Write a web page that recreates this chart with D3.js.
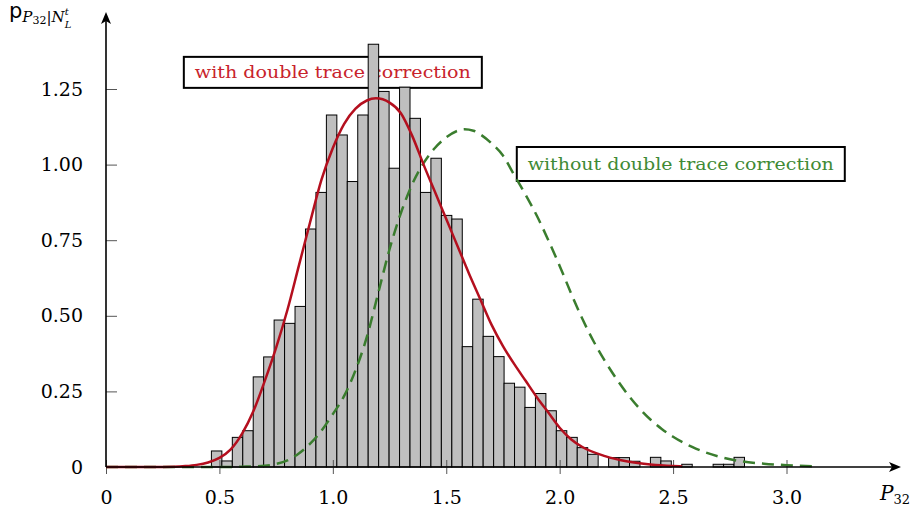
<!DOCTYPE html>
<html>
<head>
<meta charset="utf-8">
<script src="https://cdn.jsdelivr.net/npm/d3@7"></script>
<style>
  body { margin: 0; background: #fff; }
  svg { display: block; }
</style>
</head>
<body>
<div id="chart"></div>
<script>
  const width = 923, height = 518;

  // histogram: bins start at binStart, each binWidth wide
  const binStart = 0.4647, binWidth = 0.04608;
  const binHeights = [0.053, 0.020, 0.098, 0.120, 0.298, 0.364, 0.486, 0.475, 0.531, 0.787,
                      0.908, 1.164, 1.098, 0.944, 1.164, 1.398, 1.242, 0.988, 1.256, 1.153,
                      0.908, 1.021, 0.832, 0.820, 0.398, 0.555, 0.432, 0.365, 0.277, 0.264,
                      0.197, 0.243, 0.186, 0.120, 0.098, 0.064, 0.042, 0, 0.031, 0.031,
                      0.019, 0, 0.032, 0.020, 0, 0.009, 0, 0, 0.009, 0.009, 0.032];

  // fitted density with double trace correction
  const withX = [0, 0.2, 0.3, 0.35, 0.4, 0.45, 0.5, 0.55, 0.6, 0.65, 0.7, 0.75, 0.8, 0.85, 0.9, 0.95,
                 1.0, 1.05, 1.1, 1.15, 1.19, 1.25, 1.3, 1.35, 1.4, 1.45, 1.5, 1.55, 1.6, 1.65, 1.7,
                 1.75, 1.8, 1.85, 1.9, 1.95, 2.0, 2.05, 2.1, 2.2, 2.3, 2.4, 2.5, 2.54];
  const withY = [0, 0, 0.001, 0.003, 0.007, 0.015, 0.03, 0.058, 0.11, 0.185, 0.285, 0.395, 0.52, 0.665, 0.81, 0.95,
                 1.055, 1.135, 1.185, 1.212, 1.219, 1.205, 1.17, 1.095, 1.0, 0.91, 0.82, 0.73, 0.64, 0.555, 0.47,
                 0.40, 0.34, 0.285, 0.23, 0.18, 0.13, 0.092, 0.066, 0.036, 0.018, 0.008, 0.003, 0.002];

  // fitted density without the correction
  const withoutX = [0, 0.5, 0.6, 0.7, 0.75, 0.8, 0.85, 0.9, 0.95, 1.0, 1.05, 1.1, 1.15, 1.2, 1.25, 1.3,
                    1.35, 1.4, 1.45, 1.5, 1.55, 1.58, 1.62, 1.65, 1.7, 1.75, 1.8, 1.85, 1.9, 1.95, 2.0,
                    2.05, 2.1, 2.15, 2.2, 2.25, 2.3, 2.35, 2.4, 2.45, 2.5, 2.6, 2.7, 2.8, 2.9, 3.0, 3.12];
  const withoutY = [0, 0, 0.001, 0.004, 0.01, 0.022, 0.045, 0.077, 0.12, 0.175, 0.235, 0.32, 0.43, 0.575, 0.72, 0.84,
                    0.935, 1.005, 1.055, 1.09, 1.112, 1.117, 1.112, 1.10, 1.07, 1.03, 0.965, 0.9, 0.83, 0.75, 0.665,
                    0.575, 0.49, 0.415, 0.35, 0.292, 0.24, 0.195, 0.157, 0.126, 0.1, 0.061, 0.035, 0.019, 0.011, 0.006, 0.002];

  const xTicks = [0, 0.5, 1.0, 1.5, 2.0, 2.5, 3.0];
  const xTickLabels = ["0", "0.5", "1.0", "1.5", "2.0", "2.5", "3.0"];
  const yTicks = [0, 0.25, 0.5, 0.75, 1.0, 1.25];
  const yTickLabels = ["0", "0.25", "0.50", "0.75", "1.00", "1.25"];

  const red = "#b40f1e", green = "#3a7d2e";
  const serif = "'DejaVu Serif', serif";

  const x = d3.scaleLinear().domain([0, 3]).range([106, 786.5]);
  const y = d3.scaleLinear().domain([0, 1.25]).range([467, 89]);

  const svg = d3.select("#chart").append("svg")
      .attr("width", width).attr("height", height);

  // annotation boxes (drawn under the bars, like the original)
  function labelBox(cx, cy, w, h, text, color) {
    const g = svg.append("g").attr("transform", `translate(${x(cx)},${y(cy)})`);
    g.append("rect")
      .attr("x", -w / 2).attr("y", -h / 2).attr("width", w).attr("height", h)
      .attr("fill", "#fff").attr("stroke", "#000").attr("stroke-width", 2);
    g.append("text")
      .attr("text-anchor", "middle").attr("y", 6)
      .attr("font-family", serif).attr("font-size", 17)
      .attr("fill", color)
      .attr("textLength", w - 22).attr("lengthAdjust", "spacingAndGlyphs")
      .text(text);
  }
  labelBox(1.0, 1.305, 298, 31, "with double trace correction", "#c8232c");
  labelBox(2.534, 1.002, 328, 34, "without double trace correction", "#3f8a35");

  // histogram bars
  svg.append("g").selectAll("rect")
    .data(binHeights)
    .join("rect")
      .attr("x", (d, i) => x(binStart + i * binWidth))
      .attr("width", x(binWidth) - x(0))
      .attr("y", d => y(d))
      .attr("height", d => y(0) - y(d))
      .attr("fill", "#bfbfbf")
      .attr("stroke", d => d > 0 ? "#000" : "none")
      .attr("stroke-width", 1);

  // axes with the library, domain path replaced by arrows below
  const xAxis = svg.append("g")
    .attr("transform", `translate(0,${y(0)})`)
    .call(d3.axisBottom(x).tickValues(xTicks).tickFormat((d, i) => xTickLabels[i]).tickSize(7).tickPadding(17));
  xAxis.select(".domain").remove();
  xAxis.selectAll(".tick line").attr("y1", -7).attr("stroke", "#555");
  xAxis.selectAll(".tick text").attr("font-family", serif).attr("font-size", 19).attr("fill", "#000");

  const yAxis = svg.append("g")
    .attr("transform", `translate(${x(0)},0)`)
    .call(d3.axisLeft(y).tickValues(yTicks).tickFormat((d, i) => yTickLabels[i]).tickSize(10).tickPadding(13));
  yAxis.select(".domain").remove();
  yAxis.selectAll(".tick line").attr("x2", 11).attr("stroke", "#555");
  yAxis.selectAll(".tick text").attr("font-family", serif).attr("font-size", 19).attr("fill", "#000");

  // density curves
  const line = d3.line().x(d => x(d[0])).y(d => y(d[1])).curve(d3.curveMonotoneX);
  svg.append("path")
    .attr("d", line(withoutX.map((v, i) => [v, withoutY[i]])))
    .attr("fill", "none").attr("stroke", green).attr("stroke-width", 2.5)
    .attr("stroke-dasharray", "12,7");
  svg.append("path")
    .attr("d", line(withX.map((v, i) => [v, withY[i]])))
    .attr("fill", "none").attr("stroke", red).attr("stroke-width", 2.5);

  // axis lines with arrow heads
  svg.append("line")
    .attr("x1", x(0)).attr("y1", y(0)).attr("x2", 896).attr("y2", y(0))
    .attr("stroke", "#000").attr("stroke-width", 1.6);
  svg.append("path")
    .attr("d", `M${901},${y(0)} L${889},${y(0) - 5} L${892},${y(0)} L${889},${y(0) + 5} Z`)
    .attr("fill", "#000");
  svg.append("line")
    .attr("x1", x(0)).attr("y1", y(0)).attr("x2", x(0)).attr("y2", 17)
    .attr("stroke", "#000").attr("stroke-width", 1.6);
  svg.append("path")
    .attr("d", `M${x(0)},12 L${x(0) - 5},24 L${x(0)},21 L${x(0) + 5},24 Z`)
    .attr("fill", "#000");

  // axis titles
  const yt = svg.append("text").attr("x", 9).attr("y", 18).attr("font-size", 21)
    .attr("font-family", "'DejaVu Sans', sans-serif");
  yt.append("tspan").text("p");
  yt.append("tspan").attr("font-family", serif).attr("font-style", "italic")
    .attr("font-size", 15).attr("dy", 4).text("P");
  yt.append("tspan").attr("font-family", serif).attr("font-size", 11).attr("dy", 2).text("32");
  yt.append("tspan").attr("font-family", serif).attr("font-size", 15).attr("dy", -2).text("|");
  yt.append("tspan").attr("font-family", serif).attr("font-style", "italic")
    .attr("font-size", 15).text("N");
  yt.append("tspan").attr("font-family", serif).attr("font-style", "italic")
    .attr("font-size", 10).attr("dy", -7).text("t");
  yt.append("tspan").attr("font-family", serif).attr("font-style", "italic")
    .attr("font-size", 10).attr("dx", -4).attr("dy", 13).text("L");

  const xt = svg.append("text").attr("x", 880).attr("y", 500)
    .attr("font-family", serif).attr("font-size", 20);
  xt.append("tspan").attr("font-style", "italic").text("P");
  xt.append("tspan").attr("font-size", 13).attr("dy", 4).text("32");
</script>
</body>
</html>
